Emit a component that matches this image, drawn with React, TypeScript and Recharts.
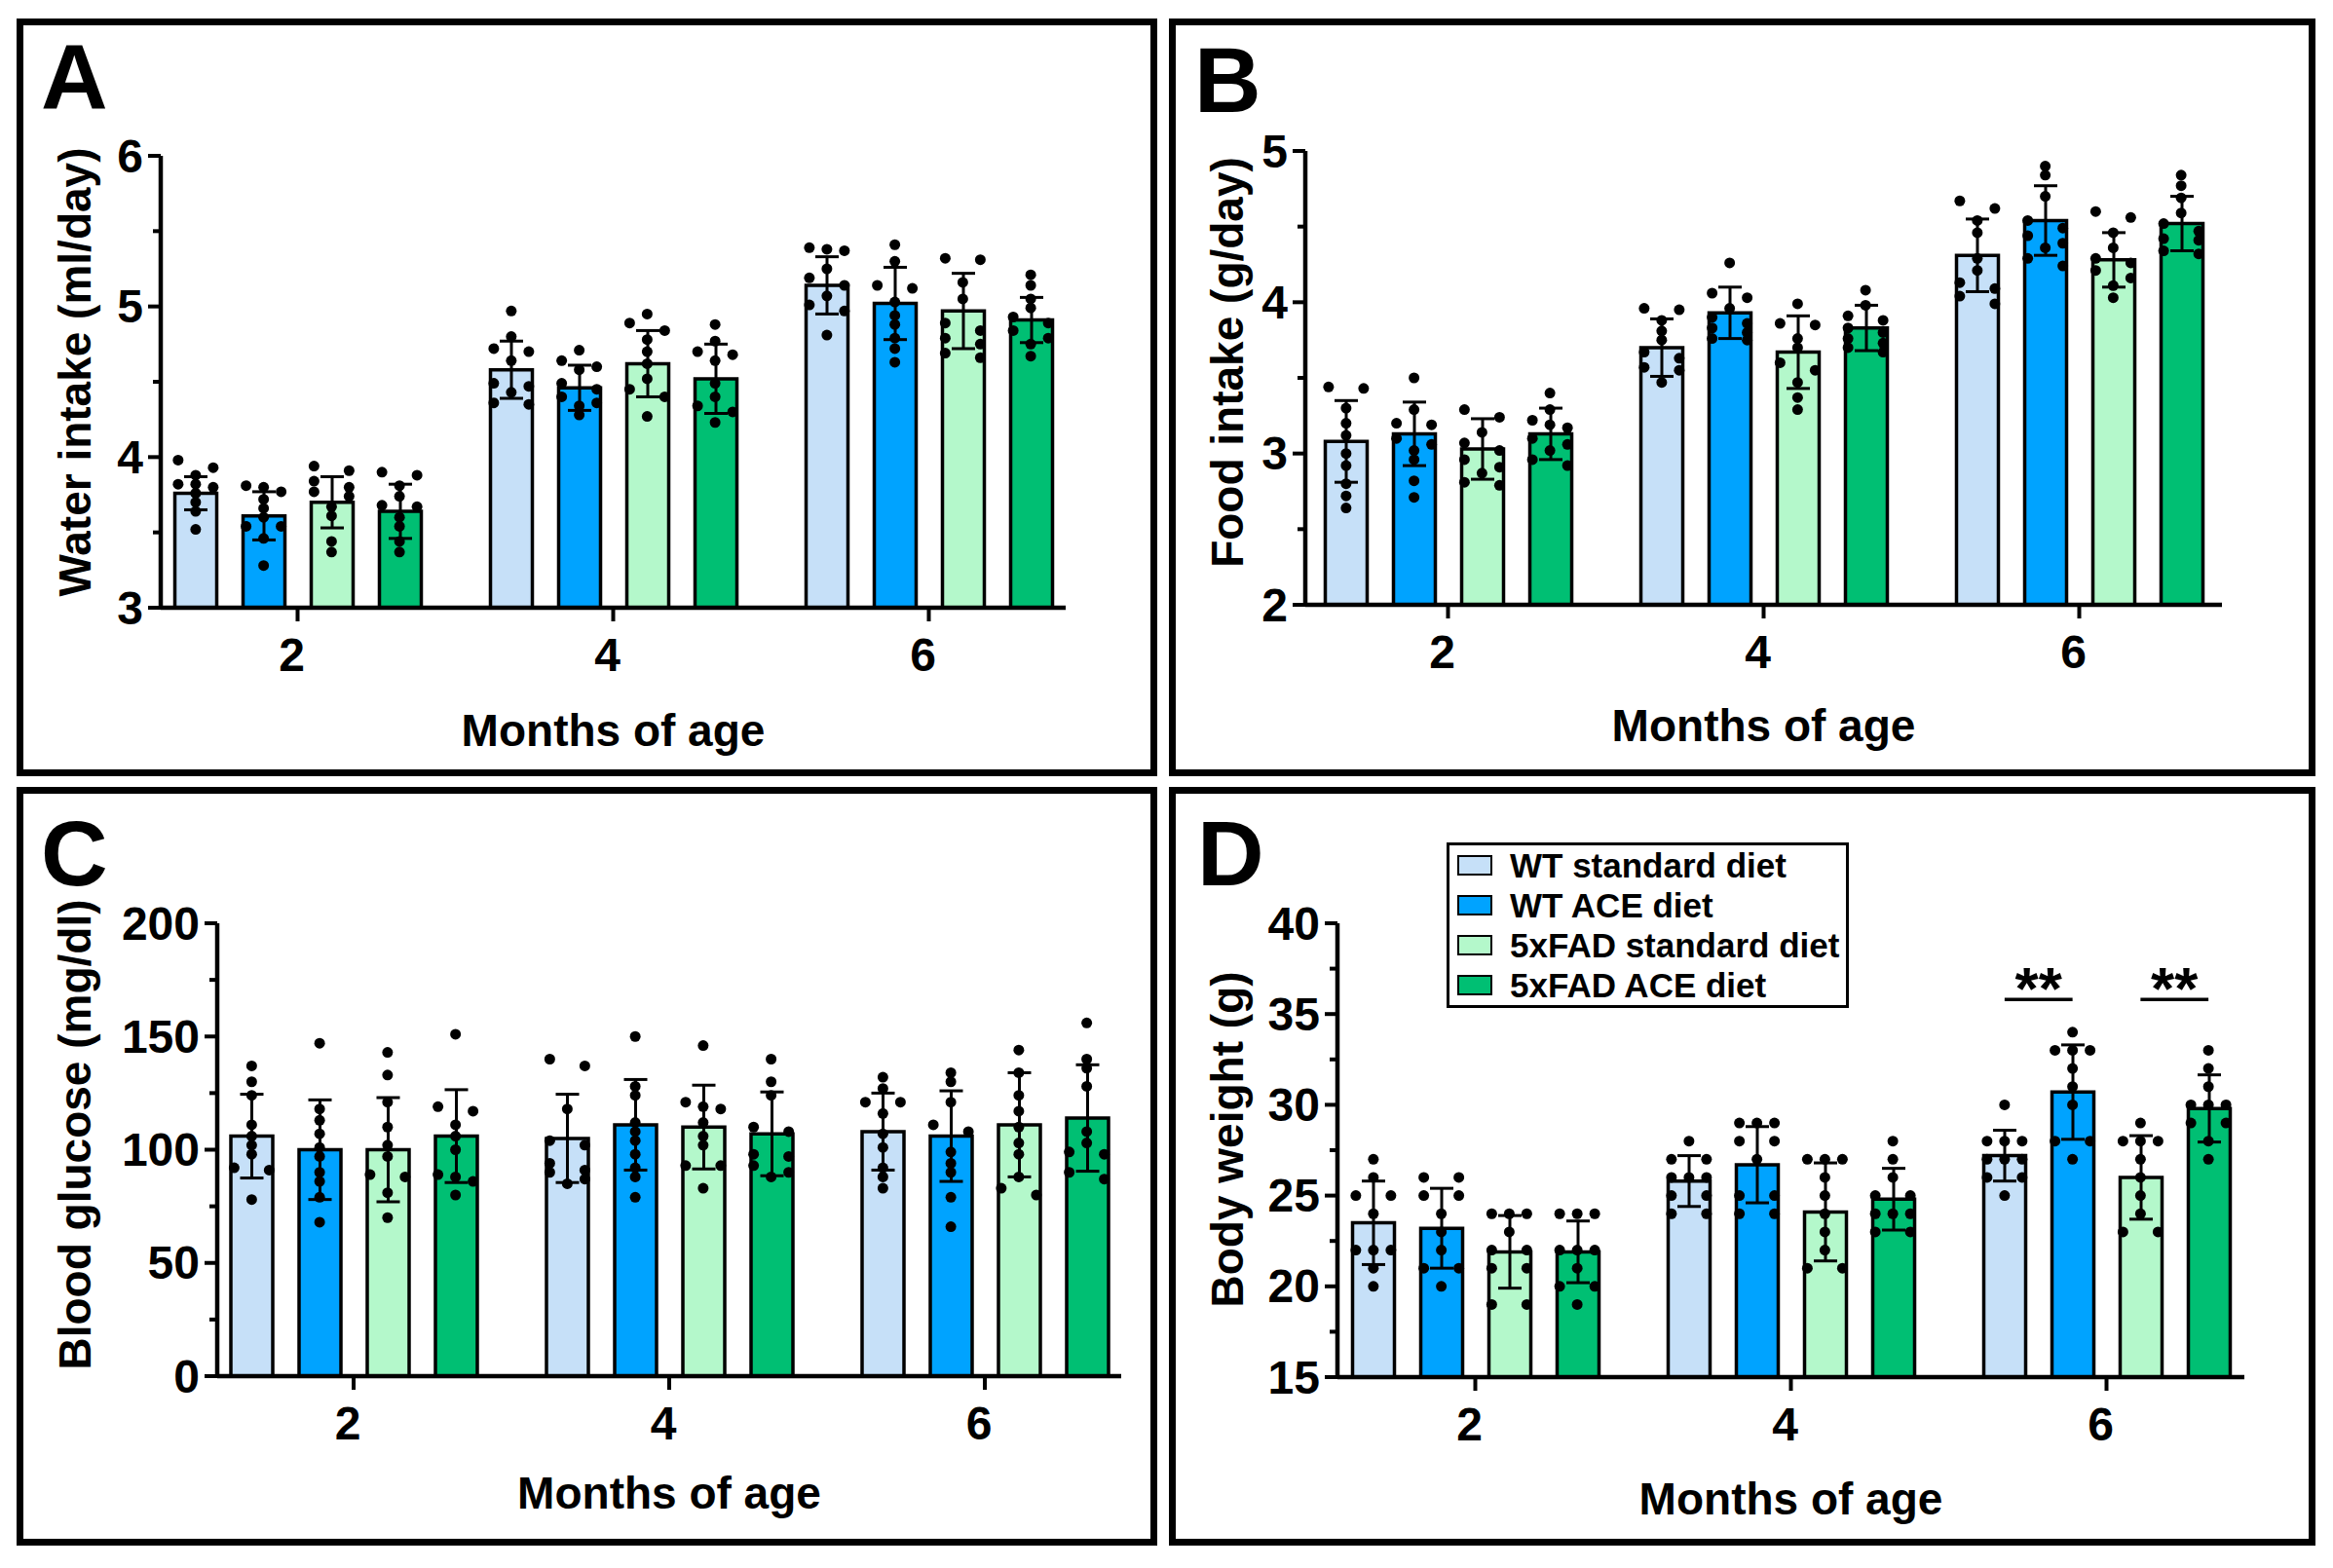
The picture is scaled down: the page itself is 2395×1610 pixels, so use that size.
import React from "react";
import { Bar, ComposedChart, ErrorBar, Legend, ReferenceLine, Scatter, XAxis, YAxis } from "recharts";

const FONT = "'Liberation Sans', Arial, Helvetica, sans-serif";

const MONTHS = ["2", "4", "6"];
const GROUPS = ["WT standard diet", "WT ACE diet", "5xFAD standard diet", "5xFAD ACE diet"];
const COLORS = ["#C6E0F8", "#00A3FF", "#B4F8CB", "#00BF73"];

// rows = group, columns = month (2, 4, 6)
const WATER_MEAN = [
  [3.76, 4.58, 5.14],
  [3.61, 4.46, 5.02],
  [3.7, 4.62, 4.97],
  [3.64, 4.52, 4.91],
];
const WATER_SD = [
  [0.11, 0.19, 0.19],
  [0.16, 0.15, 0.24],
  [0.17, 0.22, 0.25],
  [0.18, 0.23, 0.15],
];
const WATER_DOTS = [
  [
    [3.98, 3.93, 3.88, 3.82, 3.82, 3.8, 3.76, 3.7, 3.64, 3.52],
    [4.97, 4.8, 4.72, 4.7, 4.64, 4.49, 4.47, 4.43, 4.36, 4.35],
    [5.39, 5.38, 5.37, 5.25, 5.19, 5.14, 5.07, 5.01, 4.97, 4.81],
  ],
  [
    [3.81, 3.8, 3.77, 3.72, 3.66, 3.6, 3.54, 3.54, 3.46, 3.28],
    [4.71, 4.64, 4.6, 4.58, 4.49, 4.45, 4.4, 4.36, 4.34, 4.28],
    [5.41, 5.3, 5.14, 5.12, 5.03, 4.94, 4.88, 4.79, 4.72, 4.63],
  ],
  [
    [3.94, 3.91, 3.84, 3.8, 3.77, 3.74, 3.67, 3.61, 3.44, 3.37],
    [4.95, 4.89, 4.84, 4.78, 4.7, 4.62, 4.52, 4.45, 4.4, 4.27],
    [5.32, 5.31, 5.16, 5.05, 4.89, 4.84, 4.79, 4.75, 4.69, 4.66],
  ],
  [
    [3.9, 3.88, 3.81, 3.74, 3.68, 3.67, 3.6, 3.54, 3.44, 3.37],
    [4.88, 4.77, 4.7, 4.68, 4.64, 4.49, 4.4, 4.34, 4.3, 4.23],
    [5.21, 5.14, 5.05, 4.99, 4.93, 4.89, 4.84, 4.79, 4.75, 4.67],
  ],
];

const FOOD_MEAN = [
  [3.08, 3.7, 4.31],
  [3.13, 3.93, 4.54],
  [3.03, 3.67, 4.28],
  [3.13, 3.83, 4.52],
];
const FOOD_SD = [
  [0.27, 0.19, 0.24],
  [0.21, 0.17, 0.23],
  [0.2, 0.24, 0.18],
  [0.17, 0.15, 0.18],
];
const FOOD_DOTS = [
  [
    [3.44, 3.43, 3.3, 3.2, 3.12, 3.0, 2.92, 2.8, 2.72, 2.64],
    [3.96, 3.95, 3.88, 3.81, 3.75, 3.67, 3.63, 3.57, 3.55, 3.47],
    [4.67, 4.62, 4.54, 4.46, 4.29, 4.21, 4.13, 4.09, 4.04, 3.99],
  ],
  [
    [3.5, 3.29, 3.2, 3.19, 3.1, 3.06, 3.02, 2.96, 2.82, 2.71],
    [4.26, 4.06, 4.03, 3.96, 3.9, 3.86, 3.83, 3.8, 3.76, 3.75],
    [4.9, 4.84, 4.7, 4.54, 4.49, 4.44, 4.39, 4.36, 4.29, 4.24],
  ],
  [
    [3.29, 3.24, 3.14, 3.07, 3.02, 2.96, 2.91, 2.87, 2.81, 2.79],
    [3.99, 3.86, 3.85, 3.76, 3.7, 3.6, 3.55, 3.47, 3.37, 3.29],
    [4.6, 4.56, 4.46, 4.36, 4.29, 4.26, 4.21, 4.16, 4.11, 4.03],
  ],
  [
    [3.4, 3.29, 3.22, 3.19, 3.17, 3.1, 3.06, 3.02, 2.96, 2.92],
    [4.08, 3.98, 3.91, 3.88, 3.83, 3.8, 3.76, 3.73, 3.7, 3.67],
    [4.84, 4.77, 4.69, 4.59, 4.52, 4.47, 4.42, 4.41, 4.34, 4.32],
  ],
];

const GLUCOSE_MEAN = [
  [106, 105, 108],
  [100, 111, 106],
  [100, 110, 111],
  [106, 107, 114],
];
const GLUCOSE_SD = [
  [18.5, 19.5, 17],
  [22, 20, 20],
  [23, 18.5, 23],
  [20.5, 18.5, 23.5],
];
const GLUCOSE_DOTS = [
  [
    [137, 130, 124, 111, 106, 102, 98, 92, 91, 78],
    [140, 137, 118, 104, 102, 94, 91, 90, 87, 85],
    [132, 127, 121, 121, 116, 107, 101, 92, 88, 83],
  ],
  [
    [147, 118, 113, 107, 101, 97, 90, 86, 79, 68],
    [150, 128, 124, 112, 108, 104, 98, 92, 88, 79],
    [134, 130, 121, 111, 108, 99, 94, 90, 79, 66],
  ],
  [
    [143, 133, 121, 110, 102, 97, 89, 88, 81, 70],
    [146, 121, 119, 118, 112, 106, 102, 93, 93, 83],
    [144, 134, 124, 117, 110, 103, 98, 88, 83, 80],
  ],
  [
    [151, 119, 117, 111, 106, 100, 89, 88, 86, 80],
    [140, 130, 124, 110, 108, 98, 97, 93, 90, 88],
    [156, 140, 136, 128, 108, 103, 99, 98, 90, 87],
  ],
];

const WEIGHT_MEAN = [
  [23.5, 25.8, 27.2],
  [23.2, 26.7, 30.7],
  [21.9, 24.1, 26.0],
  [21.9, 24.8, 29.8],
];
const WEIGHT_SD = [
  [2.3, 1.4, 1.4],
  [2.2, 2.1, 2.6],
  [2.0, 2.7, 2.3],
  [1.7, 1.7, 1.85],
];
const WEIGHT_DOTS = [
  [
    [27, 26, 25, 25, 24, 22, 22, 22, 21, 20],
    [28, 27, 27, 26, 26, 26, 25, 25, 24, 24],
    [30, 28, 28, 28, 27, 27, 27, 26, 26, 25],
  ],
  [
    [26, 26, 25, 25, 24, 23, 22, 21, 21, 20],
    [29, 29, 29, 28, 28, 27, 25, 25, 24, 24],
    [34, 33, 33, 33, 32, 31, 30, 28, 28, 27],
  ],
  [
    [24, 24, 24, 23, 22, 22, 21, 21, 19, 19],
    [27, 27, 27, 26, 25, 24, 23, 22, 21, 21],
    [29, 28, 28, 28, 27, 26, 25, 24, 23, 23],
  ],
  [
    [24, 24, 24, 22, 22, 22, 21, 20, 20, 19],
    [28, 27, 26, 25, 25, 24, 24, 24, 23, 23],
    [33, 32, 31, 30, 30, 30, 29, 29, 28, 27],
  ],
];

// significance brackets in D: month index, bar from, bar to, y value
const WEIGHT_SIG = [
  { month: 2, from: 0, to: 1, y: 35.8, text: "**" },
  { month: 2, from: 2, to: 3, y: 35.8, text: "**" },
];

// bar geometry in px, one category band per month
const BAND = 324;
const CAT_GAP = 36;
const BAR_GAP = 27;
const BAR_SIZE = (BAND - 2 * CAT_GAP - 3 * BAR_GAP) / 4;
const X_AXIS_H = 150;
const Y_AXIS_W = 120;
const TICK_SIZE = 13;
const TICK_MARGIN = 5;
const MINOR_TICK = 8;

function barCenter(month: number, group: number) {
  return month + (CAT_GAP + BAR_SIZE / 2 + group * (BAR_SIZE + BAR_GAP)) / BAND;
}

// put points sitting at about the same height side by side
function swarm(values: number[], pxPerUnit: number) {
  const order = values.map((_, i) => i).sort((a, b) => values[b] - values[a]);
  const offsets = new Array(values.length).fill(0);
  let row: number[] = [];
  const flush = () => {
    const n = row.length;
    row.forEach((idx, k) => {
      offsets[idx] = n === 1 ? 0 : (k - (n - 1) / 2) * (36 / (n - 1));
    });
    row = [];
  };
  order.forEach((idx) => {
    if (row.length && (values[row[0]] - values[idx]) * pxPerUnit > 9) flush();
    row.push(idx);
  });
  flush();
  return offsets;
}

function YTick(props: any) {
  const { x, y, payload, majors } = props;
  const axisX = x + TICK_MARGIN + TICK_SIZE;
  const major = majors.includes(payload.value);
  return (
    <g>
      <line x1={axisX - (major ? TICK_SIZE : MINOR_TICK)} x2={axisX} y1={y} y2={y} stroke="#000" strokeWidth={4} />
      {major && (
        <text x={x} y={y} textAnchor="end" dominantBaseline="central" fontSize={48} fontWeight={700} fontFamily={FONT} fill="#000">
          {payload.value}
        </text>
      )}
    </g>
  );
}

const DotShape = (p: any) => <circle cx={p.cx} cy={p.cy} r={5.5} fill="#000" />;

function LegendBox() {
  return (
    <div
      style={{
        width: 413,
        height: 170,
        boxSizing: "border-box",
        border: "3px solid #000",
        background: "#fff",
        fontFamily: FONT,
        fontWeight: 700,
        fontSize: 35,
        color: "#000",
      }}
    >
      {GROUPS.map((g, i) => (
        <div key={g} style={{ height: 41, display: "flex", alignItems: "center" }}>
          <span
            style={{
              width: 36,
              height: 21,
              boxSizing: "border-box",
              border: "2.5px solid #000",
              background: COLORS[i],
              marginLeft: 8,
              marginRight: 18,
            }}
          />
          <span style={{ whiteSpace: "nowrap", lineHeight: 1 }}>{g}</span>
        </div>
      ))}
    </div>
  );
}

type PanelProps = {
  letter: string;
  letterX: number;
  letterY: number;
  left: number;
  top: number;
  width: number;
  height: number;
  plot: { left: number; top: number; right: number; bottom: number };
  domain: [number, number];
  majors: number[];
  minors: number[];
  yTitle: string;
  yTitleY: number;
  xTitleY: number;
  mean: number[][];
  sd: number[][];
  dots: number[][][];
  legend?: boolean;
  sig?: { month: number; from: number; to: number; y: number; text: string }[];
};

function Panel(p: PanelProps) {
  const { plot, domain, majors, minors } = p;
  const plotW = plot.right - plot.left;
  const pad = (plotW - 3 * BAND) / 2;
  const pxPerUnit = (plot.bottom - plot.top) / (domain[1] - domain[0]);

  const rows = MONTHS.map((m, j) => {
    const r: Record<string, any> = { month: m };
    GROUPS.forEach((_, i) => {
      r[`s${i}`] = p.mean[i][j];
      r[`e${i}`] = p.sd[i][j];
    });
    return r;
  });

  const points: { x: number; y: number }[] = [];
  p.dots.forEach((byMonth, i) =>
    byMonth.forEach((vals, j) => {
      const off = swarm(vals, pxPerUnit);
      vals.forEach((v, k) => points.push({ x: barCenter(j, i) + off[k] / BAND, y: v }));
    }),
  );

  const ticks = [...majors, ...minors].sort((a, b) => a - b);
  const textStyle: React.CSSProperties = {
    position: "absolute",
    fontFamily: FONT,
    fontWeight: 700,
    fontSize: 46,
    lineHeight: 1,
    whiteSpace: "nowrap",
    color: "#000",
  };

  return (
    <div style={{ position: "absolute", left: p.left, top: p.top, width: p.width, height: p.height }}>
      <div
        style={{ position: "absolute", inset: 0, border: "7px solid #000", boxSizing: "border-box" }}
      />
      <div style={{ ...textStyle, left: p.letterX, top: p.letterY, fontSize: 95 }}>{p.letter}</div>
      <div
        style={{
          ...textStyle,
          left: 60,
          top: p.yTitleY,
          transform: "translate(-50%, -50%) rotate(-90deg)",
        }}
      >
        {p.yTitle}
      </div>
      <div
        style={{
          ...textStyle,
          left: (plot.left + plot.right) / 2,
          top: p.xTitleY,
          transform: "translate(-50%, -50%)",
        }}
      >
        Months of age
      </div>
      <div style={{ position: "absolute", left: 0, top: 0 }}>
        <ComposedChart
          width={p.width}
          height={p.height}
          data={rows}
          margin={{
            top: plot.top,
            right: p.width - plot.right,
            bottom: p.height - plot.bottom - X_AXIS_H,
            left: plot.left - Y_AXIS_W,
          }}
          barCategoryGap={CAT_GAP}
          barGap={BAR_GAP}
        >
          <XAxis
            dataKey="month"
            height={X_AXIS_H}
            padding={{ left: pad, right: pad }}
            interval={0}
            axisLine={{ stroke: "#000", strokeWidth: 4.5 }}
            tickLine={{ stroke: "#000", strokeWidth: 4 }}
            tickSize={14}
            tickMargin={17}
            tick={{ fill: "#000", fontSize: 48, fontWeight: 700, fontFamily: FONT, dx: -6 }}
          />
          <XAxis
            xAxisId="n"
            dataKey="x"
            type="number"
            domain={[0, 3]}
            allowDataOverflow
            hide
            padding={{ left: pad, right: pad }}
          />
          <YAxis
            width={Y_AXIS_W}
            type="number"
            domain={domain}
            allowDataOverflow
            ticks={ticks}
            interval={0}
            tickSize={TICK_SIZE}
            tickMargin={TICK_MARGIN}
            tickLine={false}
            axisLine={{ stroke: "#000", strokeWidth: 4.5 }}
            tick={(tp: any) => <YTick {...tp} majors={majors} />}
          />
          {GROUPS.map((g, i) => (
            <Bar
              key={g}
              dataKey={`s${i}`}
              name={g}
              fill={COLORS[i]}
              stroke="#000"
              strokeWidth={3.5}
              isAnimationActive={false}
            >
              <ErrorBar
                dataKey={`e${i}`}
                width={12}
                stroke="#000"
                strokeWidth={3}
                direction="y"
                isAnimationActive={false}
              />
            </Bar>
          ))}
          <Scatter
            data={points}
            dataKey="y"
            xAxisId="n"
            shape={DotShape}
            isAnimationActive={false}
          />
          {(p.sig || []).map((s, k) => (
            <ReferenceLine
              key={k}
              xAxisId="n"
              ifOverflow="visible"
              segment={[
                { x: barCenter(s.month, s.from), y: s.y },
                { x: barCenter(s.month, s.to), y: s.y },
              ]}
              stroke="#000"
              strokeWidth={3.5}
              label={{
                value: s.text,
                position: "top",
                offset: -10,
                fill: "#000",
                fontSize: 62,
                fontWeight: 700,
                fontFamily: FONT,
              }}
            />
          ))}
          {p.legend && (
            <Legend
              layout="vertical"
              align="center"
              verticalAlign="middle"
              wrapperStyle={{ left: 285, top: 57, width: 413, height: 170 }}
              content={() => <LegendBox />}
            />
          )}
        </ComposedChart>
      </div>
    </div>
  );
}

export default function App() {
  return (
    <div
      style={{
        position: "absolute",
        left: 0,
        top: 0,
        width: 2395,
        height: 1610,
        background: "#fff",
        overflow: "hidden",
      }}
    >
      <Panel
        letter="A"
        letterX={25}
        letterY={13}
        left={17}
        top={19}
        width={1171}
        height={778}
        plot={{ left: 148, top: 141, right: 1077, bottom: 605 }}
        domain={[3, 6]}
        majors={[3, 4, 5, 6]}
        minors={[3.5, 4.5, 5.5]}
        yTitle="Water intake (ml/day)"
        yTitleY={363}
        xTitleY={731}
        mean={WATER_MEAN}
        sd={WATER_SD}
        dots={WATER_DOTS}
      />
      <Panel
        letter="B"
        letterX={26}
        letterY={16}
        left={1200}
        top={19}
        width={1177}
        height={778}
        plot={{ left: 140, top: 136, right: 1081, bottom: 602 }}
        domain={[2, 5]}
        majors={[2, 3, 4, 5]}
        minors={[2.5, 3.5, 4.5]}
        yTitle="Food intake (g/day)"
        yTitleY={353}
        xTitleY={726}
        mean={FOOD_MEAN}
        sd={FOOD_SD}
        dots={FOOD_DOTS}
      />
      <Panel
        letter="C"
        letterX={25}
        letterY={21}
        left={17}
        top={808}
        width={1171}
        height={779}
        plot={{ left: 206, top: 140, right: 1134, bottom: 605 }}
        domain={[0, 200]}
        majors={[0, 50, 100, 150, 200]}
        minors={[25, 75, 125, 175]}
        yTitle="Blood glucose (mg/dl)"
        yTitleY={357}
        xTitleY={725}
        mean={GLUCOSE_MEAN}
        sd={GLUCOSE_SD}
        dots={GLUCOSE_DOTS}
      />
      <Panel
        letter="D"
        letterX={29}
        letterY={21}
        left={1200}
        top={808}
        width={1177}
        height={779}
        plot={{ left: 173, top: 140, right: 1104, bottom: 606 }}
        domain={[15, 40]}
        majors={[15, 20, 25, 30, 35, 40]}
        minors={[17.5, 22.5, 27.5, 32.5, 37.5]}
        yTitle="Body weight (g)"
        yTitleY={362}
        xTitleY={731}
        mean={WEIGHT_MEAN}
        sd={WEIGHT_SD}
        dots={WEIGHT_DOTS}
        legend
        sig={WEIGHT_SIG}
      />
    </div>
  );
}
